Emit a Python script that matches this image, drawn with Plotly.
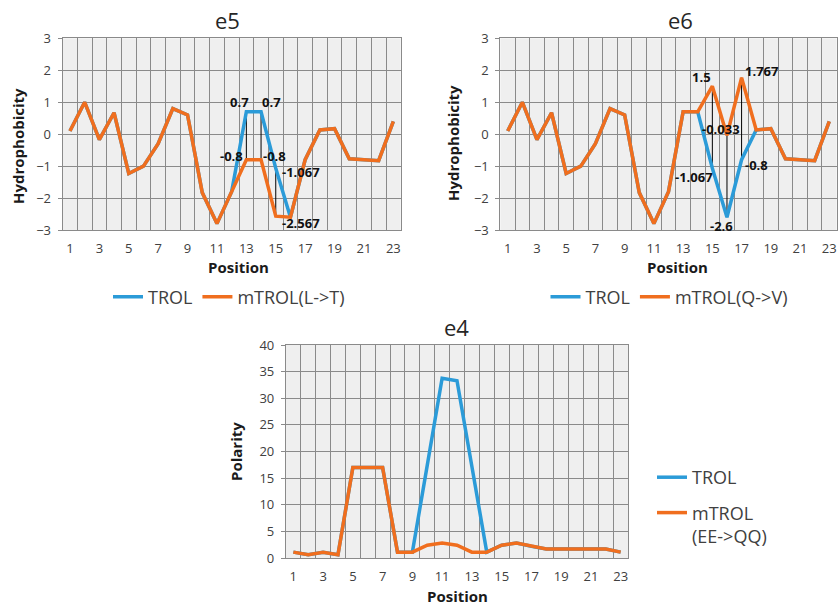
import plotly.graph_objects as go

W, H = 840, 606

positions = list(range(1, 24))
x_tick_labels = [str(p) for p in range(1, 24, 2)]

# e5 hydrophobicity: wild type vs L->T mutant
e5_trol = [0.1, 1.0, -0.17, 0.67, -1.23, -1.0, -0.3, 0.8, 0.6, -1.83, -2.8, -1.8,
           0.7, 0.7, -1.067, -2.6, -0.8, 0.13, 0.17, -0.77, -0.8, -0.83, 0.4]
e5_mtrol = [0.1, 1.0, -0.17, 0.67, -1.23, -1.0, -0.3, 0.8, 0.6, -1.83, -2.8, -1.8,
            -0.8, -0.8, -2.567, -2.6, -0.8, 0.13, 0.17, -0.77, -0.8, -0.83, 0.4]

# e6 hydrophobicity: wild type vs Q->V mutant
e6_trol = [0.1, 1.0, -0.17, 0.67, -1.23, -1.0, -0.3, 0.8, 0.6, -1.83, -2.8, -1.8,
           0.7, 0.7, -1.067, -2.6, -0.8, 0.13, 0.17, -0.77, -0.8, -0.83, 0.4]
e6_mtrol = [0.1, 1.0, -0.17, 0.67, -1.23, -1.0, -0.3, 0.8, 0.6, -1.83, -2.8, -1.8,
            0.7, 0.7, 1.5, -0.033, 1.767, 0.13, 0.17, -0.77, -0.8, -0.83, 0.4]

# e4 polarity: wild type vs EE->QQ mutant
e4_trol = [1.1, 0.6, 1.06, 0.6, 17.0, 17.0, 17.0, 1.1, 1.1, 17.4, 33.75, 33.3,
           17.2, 1.1, 2.4, 2.8, 2.2, 1.7, 1.7, 1.7, 1.7, 1.7, 1.1]
e4_mtrol = [1.1, 0.6, 1.06, 0.6, 17.0, 17.0, 17.0, 1.1, 1.1, 2.4, 2.8, 2.4,
            1.1, 1.1, 2.4, 2.8, 2.2, 1.7, 1.7, 1.7, 1.7, 1.7, 1.1]

BLUE = "#2b9bd8"
ORANGE = "#f06e1e"
GRID = "#8a8a8a"
PLOT_BG = "#efefef"
TEXT = "#404040"
FONT = "Open Sans"


def px_x(v):
    return v / W


def px_y(v):
    return 1 - v / H


fig = go.Figure()

panels = {
    # name: (x-axis id, y-axis id, x domain px, y domain px)
    "e5": ("x", "y", (62.6, 400.7), (38.3, 230.0)),
    "e6": ("x2", "y2", (500.4, 836.6), (38.3, 230.0)),
    "e4": ("x3", "y3", (285.9, 628.1), (345.0, 558.0)),
}


def hi_lo_lines(a, b):
    xs, ys = [], []
    for p, va, vb in zip(positions, a, b):
        if va != vb:
            xs += [p, p, None]
            ys += [va, vb, None]
    return xs, ys


def add_pair(trol, mtrol, mut_name, xa, ya, legend, drop_lines):
    if drop_lines:
        dx, dy = hi_lo_lines(trol, mtrol)
        fig.add_trace(go.Scatter(x=dx, y=dy, mode="lines", xaxis=xa, yaxis=ya,
                                 line=dict(color="#000000", width=1),
                                 showlegend=False, hoverinfo="skip"))
    fig.add_trace(go.Scatter(x=positions, y=trol, mode="lines", name="TROL",
                             xaxis=xa, yaxis=ya, legend=legend, legendgroup=legend + "a",
                             line=dict(color=BLUE, width=3.5)))
    fig.add_trace(go.Scatter(x=positions, y=mtrol, mode="lines", name=mut_name,
                             xaxis=xa, yaxis=ya, legend=legend, legendgroup=legend + "b",
                             line=dict(color=ORANGE, width=3.5)))


add_pair(e5_trol, e5_mtrol, "mTROL(L->T)", "x", "y", "legend", True)
add_pair(e6_trol, e6_mtrol, "mTROL(Q->V)", "x2", "y2", "legend2", True)
add_pair(e4_trol, e4_mtrol, "mTROL<br>(EE->QQ)", "x3", "y3", "legend3", False)

layout_axes = {}
for i, (name, (xa, ya, (x0, x1), (y0, y1))) in enumerate(panels.items()):
    suffix = "" if i == 0 else str(i + 1)
    if name == "e4":
        yrange, ydtick = [0, 40], 5
    else:
        yrange, ydtick = [-3, 3], 1
    layout_axes["xaxis" + suffix] = dict(
        domain=[px_x(x0), px_x(x1)], anchor=ya, range=[0.5, 23.5],
        tickmode="array", tickvals=list(range(1, 24, 2)), ticktext=x_tick_labels,
        showgrid=False, zeroline=False, ticks="", automargin=False,
        showline=True, linecolor=GRID, linewidth=1, mirror=True,
        minor=dict(tickmode="array", tickvals=[p + 0.5 for p in range(0, 24)],
                   showgrid=True, gridcolor=GRID, gridwidth=1, ticks=""),
        tickfont=dict(family=FONT, size=13, color=TEXT),
        ticklabelstandoff=6, fixedrange=True,
    )
    layout_axes["yaxis" + suffix] = dict(
        domain=[px_y(y1), px_y(y0)], anchor=xa, range=yrange, dtick=ydtick,
        tick0=0, showgrid=True, gridcolor=GRID, gridwidth=1, zeroline=False,
        showline=True, linecolor=GRID, linewidth=1, mirror=True, automargin=False,
        ticks="outside", ticklen=4, tickcolor=GRID,
        tickfont=dict(family=FONT, size=13, color=TEXT),
        ticklabelstandoff=4, fixedrange=True,
    )

annotations = []


def text_at(x, y, text, size, bold=False, angle=0, color="#262626"):
    annotations.append(dict(
        x=px_x(x), y=px_y(y), xref="paper", yref="paper", showarrow=False,
        text=f"<b>{text}</b>" if bold else text, textangle=angle,
        font=dict(family=FONT, size=size, color=color),
        xanchor="center", yanchor="middle"))


# panel titles
text_at(228, 20, "e5", 22)
text_at(680, 20, "e6", 22)
text_at(457, 327, "e4", 22)

# axis titles
text_at(238, 267, "Position", 15, bold=True, color="#1a1a1a")
text_at(677, 267, "Position", 15, bold=True, color="#1a1a1a")
text_at(458, 596, "Position", 15, bold=True, color="#1a1a1a")
text_at(18, 146, "Hydrophobicity", 15, bold=True, angle=-90, color="#1a1a1a")
text_at(453, 143, "Hydrophobicity", 15, bold=True, angle=-90, color="#1a1a1a")
text_at(236, 452, "Polarity", 15, bold=True, angle=-90, color="#1a1a1a")


def value_label(series, pos, xa, ya, xanchor, xshift, yshift):
    v = series[pos - 1]
    annotations.append(dict(
        x=pos, y=v, xref=xa, yref=ya, showarrow=False,
        text=f"<b>{v:g}</b>", xanchor=xanchor, yanchor="middle",
        xshift=xshift, yshift=yshift,
        font=dict(family=FONT, size=13, color="#111111")))


# e5 data labels
value_label(e5_trol, 13, "x", "y", "right", 5, 10)
value_label(e5_trol, 14, "x", "y", "left", -1, 10)
value_label(e5_mtrol, 13, "x", "y", "right", -1, 4)
value_label(e5_mtrol, 14, "x", "y", "left", 0, 4)
value_label(e5_trol, 15, "x", "y", "left", 4, -4)
value_label(e5_mtrol, 15, "x", "y", "left", 4, -7)

# e6 data labels
value_label(e6_mtrol, 15, "x2", "y2", "right", 1, 9)
value_label(e6_mtrol, 17, "x2", "y2", "left", 1, 7)
value_label(e6_mtrol, 16, "x2", "y2", "center", -6, 6)
value_label(e6_trol, 15, "x2", "y2", "right", 3, -9)
value_label(e6_trol, 16, "x2", "y2", "center", -5, -9)
value_label(e6_trol, 17, "x2", "y2", "left", 1, -5)

legend_font = dict(family=FONT, size=18, color=TEXT)

fig.update_layout(
    width=W, height=H, margin=dict(l=0, r=0, t=0, b=0, autoexpand=False),
    paper_bgcolor="white", plot_bgcolor=PLOT_BG,
    font=dict(family=FONT, color=TEXT),
    annotations=annotations,
    hovermode=False,
    legend=dict(orientation="h", x=px_x(229), y=px_y(297), xanchor="center",
                yanchor="middle", font=legend_font, itemwidth=30,
                bgcolor="rgba(0,0,0,0)", tracegroupgap=0),
    legend2=dict(orientation="h", x=px_x(669), y=px_y(297), xanchor="center",
                 yanchor="middle", font=legend_font, itemwidth=30,
                 bgcolor="rgba(0,0,0,0)", tracegroupgap=0),
    legend3=dict(orientation="v", x=px_x(652), y=px_y(459), xanchor="left",
                 yanchor="top", font=legend_font, itemwidth=30, valign="top",
                 bgcolor="rgba(0,0,0,0)", tracegroupgap=9),
    **layout_axes,
)

fig.write_html("out.html")
